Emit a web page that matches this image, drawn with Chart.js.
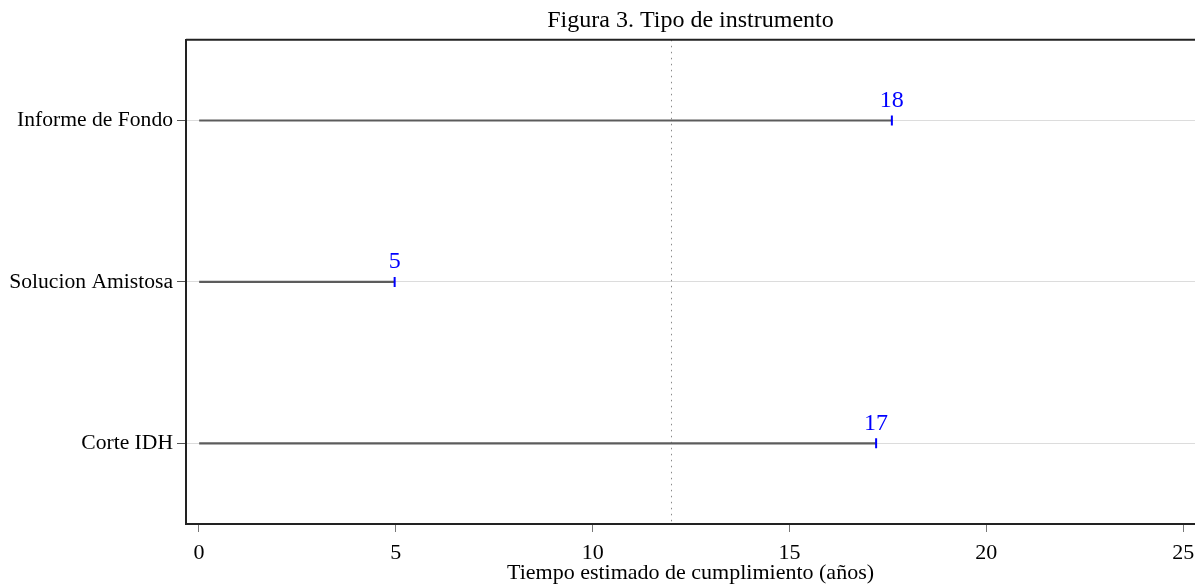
<!DOCTYPE html>
<html>
<head>
<meta charset="utf-8">
<script src="https://cdn.jsdelivr.net/npm/chart.js@4"></script>
<style>
  body { margin: 0; background: #fff; }
  #wrap { width: 1195px; height: 586px; position: relative; }
</style>
</head>
<body>
<div id="wrap"><canvas id="chart"></canvas></div>
<script>
// data
const categories = ["Informe de Fondo", "Solucion Amistosa", "Corte IDH"];
const years = [17.6, 4.97, 17.2];
const xTicks = [0, 5, 10, 15, 20, 25];
const refLine = 12;

let ctx = document.getElementById("chart");

// dotted reference line, top frame line and value labels
const extras = {
  id: "extras",
  beforeDatasetsDraw(chart) {
    const c = chart.ctx;
    const area = chart.chartArea;
    const x = chart.scales.x.getPixelForValue(refLine);
    c.save();
    c.strokeStyle = "#8a8a8a";
    c.lineWidth = 1;
    c.setLineDash([1.5, 4.5]);
    c.beginPath();
    c.moveTo(Math.round(x) + 0.5, area.top);
    c.lineTo(Math.round(x) + 0.5, area.bottom);
    c.stroke();
    c.restore();
  },
  afterDraw(chart) {
    const c = chart.ctx;
    const area = chart.chartArea;
    c.save();
    c.strokeStyle = "#222";
    c.lineWidth = 2;
    c.beginPath();
    c.moveTo(area.left, area.top);
    c.lineTo(chart.width, area.top);
    c.stroke();
    // labels above the blue ticks
    c.fillStyle = "#0000ff";
    c.font = "24px 'Liberation Serif'";
    c.textAlign = "center";
    c.textBaseline = "bottom";
    for (let i = 0; i < years.length; i++) {
      const px = chart.scales.x.getPixelForValue(years[i]);
      const py = chart.scales.y.getPixelForValue(i);
      c.fillText(Math.round(years[i]), px, py - 8);
    }
    c.restore();
  },
};

new Chart(ctx, {
  type: "bar",
  data: {
    labels: categories,
    datasets: [
      {
        data: years,
        backgroundColor: "#5c5c5c",
        barThickness: 1.5,
        order: 2,
      },
      {
        type: "line",
        data: years.map((v, i) => ({ x: v, y: categories[i] })),
        showLine: false,
        pointStyle: "line",
        rotation: 90,
        radius: 5,
        hoverRadius: 5,
        borderColor: "#0000ff",
        borderWidth: 2,
        order: 1,
      },
    ],
  },
  options: {
    indexAxis: "y",
    responsive: true,
    maintainAspectRatio: false,
    animation: false,
    layout: { autoPadding: false, padding: 0 },
    plugins: {
      legend: { display: false },
      tooltip: { enabled: false },
      title: {
        display: true,
        fullSize: false,
        text: "Figura 3. Tipo de instrumento",
        color: "#000",
        font: { family: "'Liberation Serif'", size: 24, weight: "normal" },
        padding: { top: 6, bottom: 5 },
      },
    },
    scales: {
      x: {
        type: "linear",
        min: -0.33,
        max: 25.3,
        afterBuildTicks(scale) {
          scale.ticks = xTicks.map((v) => ({ value: v }));
        },
        afterFit(scale) {
          scale.height = 62;
          scale.paddingRight = 0;
        },
        grid: {
          drawOnChartArea: false,
          tickLength: 8,
          tickColor: "#777",
          tickWidth: 1,
        },
        border: { color: "#222", width: 2 },
        ticks: {
          color: "#000",
          padding: 8,
          maxRotation: 0,
          font: { family: "'Liberation Serif'", size: 22 },
        },
        title: {
          display: true,
          text: "Tiempo estimado de cumplimiento (años)",
          color: "#000",
          padding: { top: 0, bottom: 0 },
          font: { family: "'Liberation Serif'", size: 22 },
        },
      },
      y: {
        afterFit(scale) {
          scale.width = 186;
        },
        grid: {
          offset: false,
          color: "#dcdcdc",
          tickColor: "#555",
          tickLength: 9,
          lineWidth: 1,
        },
        border: { color: "#222", width: 2 },
        ticks: {
          color: "#000",
          padding: 4,
          font: { family: "'Liberation Serif'", size: 21.6 },
        },
      },
    },
  },
  plugins: [extras],
});
</script>
</body>
</html>
